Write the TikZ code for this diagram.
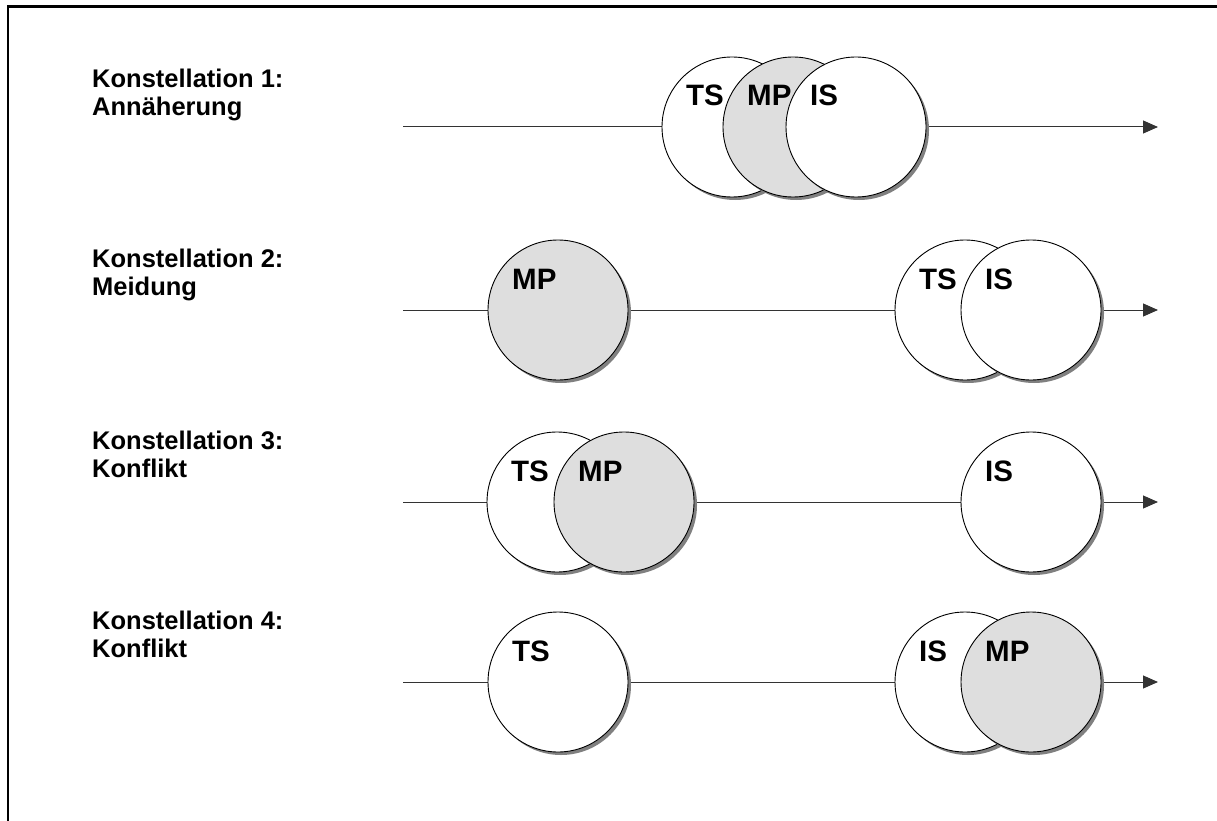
\documentclass[tikz,border=0pt]{standalone}
\usepackage{fontspec}
\setmainfont{Liberation Sans}
\usetikzlibrary{arrows.meta,shadows,backgrounds,calc}
\begin{document}
\begin{tikzpicture}[x=1pt,y=-1pt,
  disc/.style={circle, draw=black, line width=0.9pt, minimum size=140pt,
    inner sep=0pt, fill=white,
    general shadow={fill=black!50, shadow xshift=3pt, shadow yshift=-3pt}},
  mpdisc/.style={disc, fill=black!13},
  tag/.style={anchor=base west, inner sep=0pt,
    font=\bfseries\fontsize{29.5}{30}\selectfont},
  rowlabel/.style={anchor=north west, inner sep=0pt, align=left,
    font=\bfseries\fontsize{25.5}{28}\selectfont},
  axis/.style={draw=black!80, line width=1pt},
  arrowaxis/.style={axis, -{Triangle[length=15pt,width=13pt]}},
]
\useasboundingbox (0,0) rectangle (1217,821);

% outer frame (top and left edges)
\draw[line width=2.7pt] (8,821) -- (8,6.5) -- (1217,6.5);

% row labels (two lines each, placed by their top edge)
\node[rowlabel] (L1) at (92,69)  {Konstellation 1:\\Annäherung};
\node[rowlabel] (L2) at (92,249) {Konstellation 2:\\Meidung};
\node[rowlabel] (L3) at (92,431) {Konstellation 3:\\Konflikt};
\node[rowlabel] (L4) at (92,611) {Konstellation 4:\\Konflikt};

% row 1
\node[disc]   (TS1) at (732,127) {};
\node[mpdisc] (MP1) at (793,127) {};
\node[disc]   (IS1) at (856,127) {};
% row 2
\node[mpdisc] (MP2) at (558,310) {};
\node[disc]   (TS2) at (965,310) {};
\node[disc]   (IS2) at (1031,310) {};
% row 3
\node[disc]   (TS3) at (557,502) {};
\node[mpdisc] (MP3) at (624,502) {};
\node[disc]   (IS3) at (1031,502) {};
% row 4
\node[disc]   (TS4) at (558,682) {};
\node[disc]   (IS4) at (965,682) {};
\node[mpdisc] (MP4) at (1031,682) {};

% time axes
\coordinate (s1) at (403,127); \coordinate (e1) at (1158,127);
\coordinate (s2) at (403,310); \coordinate (e2) at (1158,310);
\coordinate (s3) at (403,502); \coordinate (e3) at (1158,502);
\coordinate (s4) at (403,682); \coordinate (e4) at (1158,682);
\begin{scope}[on background layer]
  \draw[axis] (s1) -- (TS1.west);
  \draw[arrowaxis] (IS1.east) -- (e1);
  \draw[axis] (s2) -- (MP2.west);
  \draw[axis] (MP2.east) -- (TS2.west);
  \draw[arrowaxis] (IS2.east) -- (e2);
  \draw[axis] (s3) -- (TS3.west);
  \draw[axis] (MP3.east) -- (IS3.west);
  \draw[arrowaxis] (IS3.east) -- (e3);
  \draw[axis] (s4) -- (TS4.west);
  \draw[axis] (TS4.east) -- (IS4.west);
  \draw[arrowaxis] (MP4.east) -- (e4);
\end{scope}

% circle tags, upper left inside each circle
\foreach \c/\t in {TS1/TS, MP1/MP, IS1/IS, MP2/MP, TS2/TS, IS2/IS,
                   TS3/TS, MP3/MP, IS3/IS, TS4/TS, IS4/IS, MP4/MP}
  \node[tag] (t\c) at ($(\c)+(-46,-21)$) {\t};
\end{tikzpicture}
\end{document}
